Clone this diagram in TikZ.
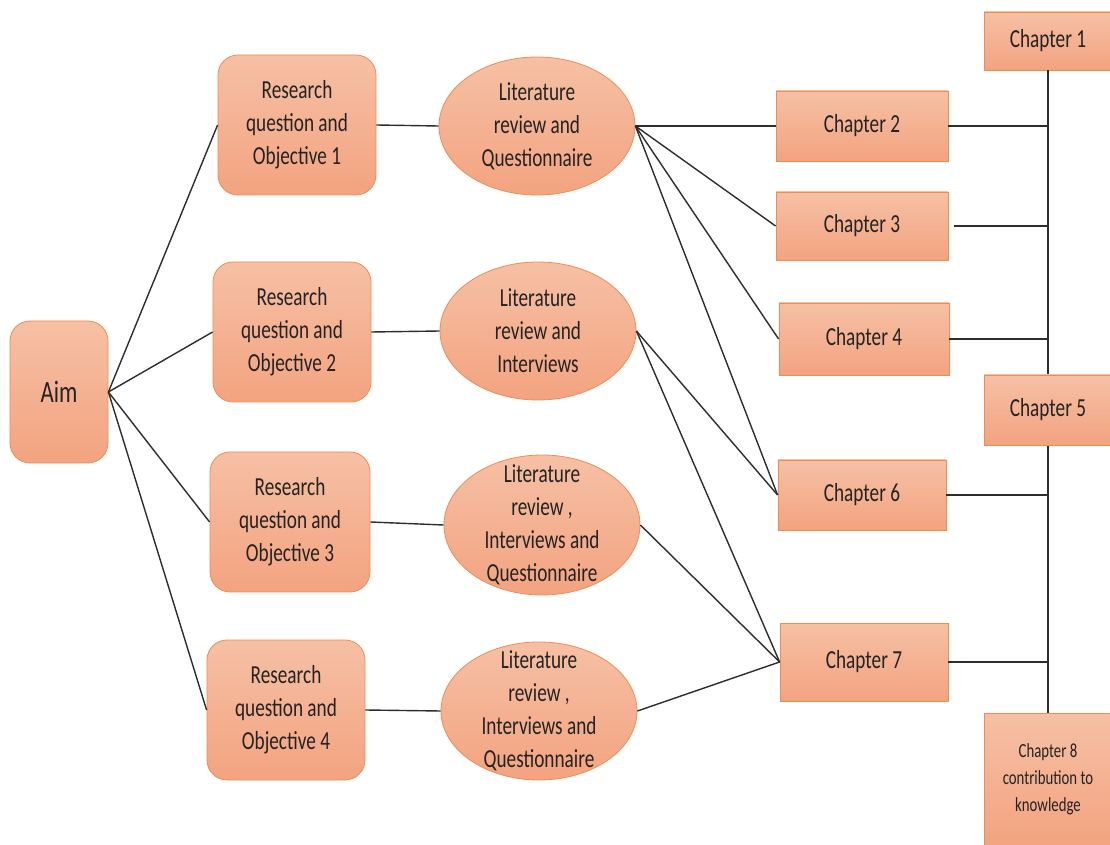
\documentclass[tikz,border=0pt]{standalone}
\usepackage{fontspec}
\setmainfont{Carlito}[FakeStretch=0.74]
\usepackage{tikz}
\usetikzlibrary{shapes.geometric}

\definecolor{boxtop}{RGB}{246,192,165}
\definecolor{boxbot}{RGB}{243,163,128}
\definecolor{boxline}{RGB}{240,140,82}
\definecolor{wire}{RGB}{45,45,45}
\definecolor{ink}{RGB}{35,35,35}

\tikzset{
  chapbox/.style={rectangle, draw=boxline, top color=boxtop, bottom color=boxbot,
    text=ink, align=center, inner sep=0pt, font=\fontsize{13}{16.5}\selectfont},
  roundbox/.style={chapbox, rounded corners=10pt},
  litbox/.style={ellipse, draw=boxline, top color=boxtop, bottom color=boxbot,
    text=ink, align=center, inner sep=0pt, minimum width=98pt, minimum height=69pt,
    font=\fontsize{13}{16.5}\selectfont},
  wireline/.style={draw=wire, line width=0.7pt}
}

\begin{document}
\begin{tikzpicture}[x=0.5pt,y=-0.5pt]
      \useasboundingbox (0,0) rectangle (1110,845);

      % aim and research questions
      \node[roundbox, minimum width=49pt, minimum height=71pt, font=\fontsize{15.5}{19}\selectfont] (aim) at (59,392) {Aim};
      \node[roundbox, minimum width=79pt, minimum height=70pt] (rq1) at (297,125) {Research\\question and\\Objective 1};
      \node[roundbox, minimum width=79pt, minimum height=70pt] (rq2) at (292,332) {Research\\question and\\Objective 2};
      \node[roundbox, minimum width=80pt, minimum height=70pt] (rq3) at (290,522) {Research\\question and\\Objective 3};
      \node[roundbox, minimum width=79pt, minimum height=70pt] (rq4) at (286,710) {Research\\question and\\Objective 4};

      % methods
      \node[litbox] (lit1) at (537,126) {Literature\\review and\\Questionnaire};
      \node[litbox] (lit2) at (538,331) {Literature\\review and\\Interviews};
      \node[litbox, minimum height=70pt, inner ysep=-6.5pt] (lit3) at (542,525) {Literature\\review ,\\Interviews and\\Questionnaire};
      \node[litbox, inner ysep=-6.5pt] (lit4) at (539,711) {Literature\\review ,\\Interviews and\\Questionnaire};

      % chapters
      \node[chapbox, minimum width=86pt, minimum height=35pt] (ch2) at (862,126) {Chapter 2};
      \node[chapbox, minimum width=86pt, minimum height=34pt] (ch3) at (862,226) {Chapter 3};
      \node[chapbox, minimum width=85pt, minimum height=36pt] (ch4) at (864,339) {Chapter 4};
      \node[chapbox, minimum width=84pt, minimum height=35pt] (ch6) at (862,495) {Chapter 6};
      \node[chapbox, minimum width=84pt, minimum height=39pt] (ch7) at (864,662) {Chapter 7};

      % the bus on the right
      \node[chapbox, minimum width=64pt, minimum height=29pt] (ch1) at (1048,41) {Chapter 1};
      \node[chapbox, minimum width=64pt, minimum height=66pt, font=\fontsize{10}{13.5}\selectfont] (ch8) at (1048,779) {Chapter 8\\contribution to\\knowledge};
      \draw[wireline] (ch1.south) -- (ch8.north);
      \node[chapbox, minimum width=64pt, minimum height=35pt] (ch5) at (1048,410) {Chapter 5};

      \foreach \q in {rq1,rq2,rq3,rq4}
        \draw[wireline] (aim.east) -- (\q.west);

      \draw[wireline] (rq1.east) -- (lit1.west);
      \draw[wireline] (rq2.east) -- (lit2.west);
      \draw[wireline] (rq3.east) -- (lit3.west);
      \draw[wireline] (rq4.east) -- (lit4.west);

      \foreach \c in {ch2,ch3,ch4,ch6}
        \draw[wireline] (lit1.east) -- (\c.west);
      \draw[wireline] (lit2.east) -- (ch6.west);
      \draw[wireline] (lit2.east) -- (ch7.west);
      \draw[wireline] (lit3.east) -- (ch7.west);
      \draw[wireline] (lit4.east) -- (ch7.west);

      \draw[wireline] (ch2.east) -- (ch2.east -| ch1.south);
      \draw[wireline, shorten <=3pt] (ch3.east) -- (ch3.east -| ch1.south);
      \draw[wireline] (ch4.east) -- (ch4.east -| ch1.south);
      \draw[wireline] (ch6.east) -- (ch6.east -| ch1.south);
      \draw[wireline] (ch7.east) -- (ch7.east -| ch1.south);
\end{tikzpicture}
\end{document}
